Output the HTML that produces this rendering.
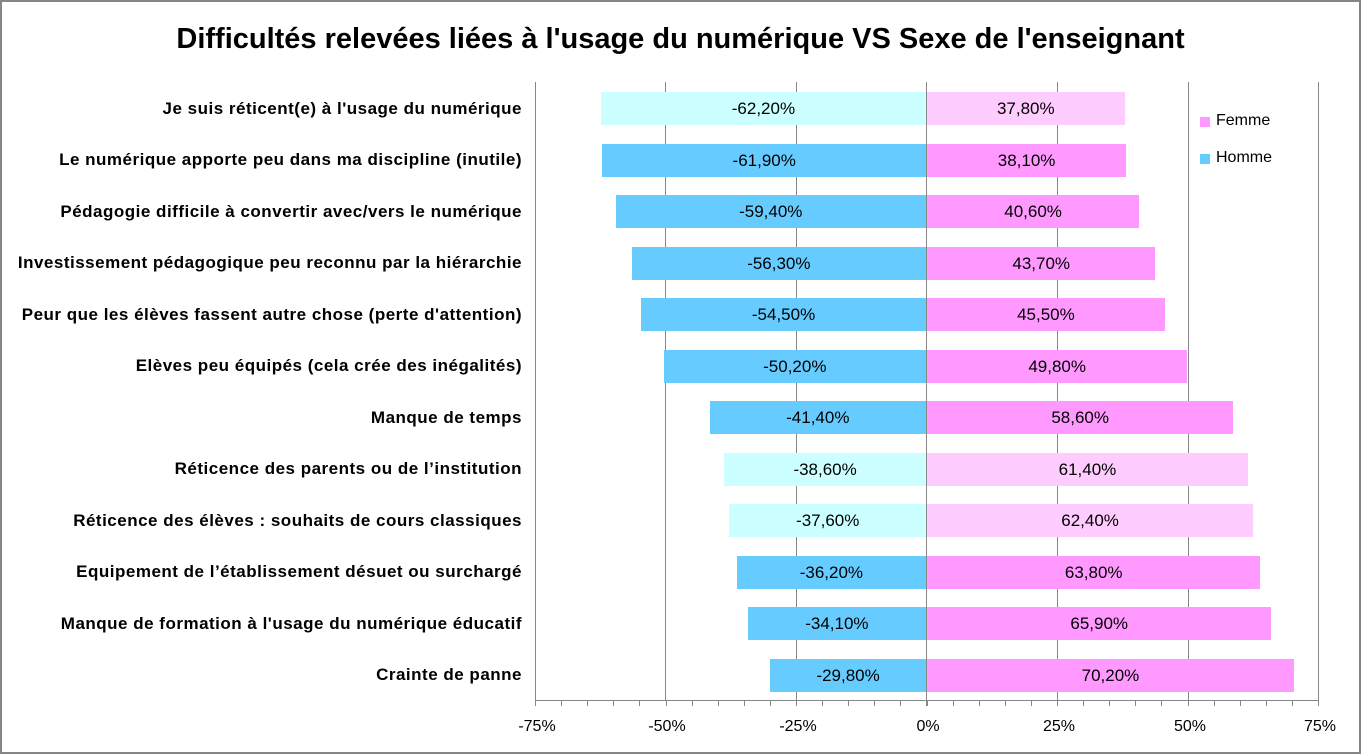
<!DOCTYPE html><html><head><meta charset="utf-8"><style>
body{margin:0;background:#fff;font-family:"Liberation Sans",sans-serif}
.c{position:relative;width:1357px;height:750px;border:2px solid #868686;overflow:hidden}
.t{position:absolute;left:0;width:1357px;top:21px;text-align:center;font-weight:bold;font-size:29px}
.l{position:absolute;right:837px;font-weight:bold;font-size:17px;letter-spacing:0.5px;white-space:nowrap;transform:translateY(-50%)}
.b{position:absolute;height:33px;font-size:17px;line-height:33px;text-align:center}
.x{position:absolute;top:716px;font-size:16px;transform:translateX(-50%)}
</style></head><body><div class="c">
<div class="t">Difficultés relevées liées à l'usage du numérique VS Sexe de l'enseignant</div>
<svg style="position:absolute;left:0;top:0" width="1357" height="750">
<g stroke="#888" stroke-width="1">
<line x1="533.5" y1="80" x2="533.5" y2="704"/>
<line x1="663.5" y1="80" x2="663.5" y2="698"/>
<line x1="794.5" y1="80" x2="794.5" y2="698"/>
<line x1="1055.5" y1="80" x2="1055.5" y2="698"/>
<line x1="1186.5" y1="80" x2="1186.5" y2="698"/>
<line x1="1316.5" y1="80" x2="1316.5" y2="704"/>
<line x1="533" y1="698.5" x2="1317" y2="698.5"/>
<line x1="924.5" y1="80" x2="924.5" y2="704"/>
</g>
<g stroke="#888" id="tk"></g>
</svg>
<div id="bars"></div>
<div style="position:absolute;left:1198px;top:115px;width:10px;height:10px;background:#ff99ff"></div>
<div style="position:absolute;left:1214px;top:110px;font-size:16px">Femme</div>
<div style="position:absolute;left:1198px;top:152px;width:10px;height:10px;background:#66ccff"></div>
<div style="position:absolute;left:1214px;top:147px;font-size:16px">Homme</div>
<div class="x" style="left:535px">-75%</div><div class="x" style="left:665px">-50%</div><div class="x" style="left:796px">-25%</div><div class="x" style="left:926px">0%</div><div class="x" style="left:1057px">25%</div><div class="x" style="left:1188px">50%</div><div class="x" style="left:1318px">75%</div>
</div>
<script>
var d=[["Je suis réticent(e) à l'usage du numérique",62.2,1],["Le numérique apporte peu dans ma discipline (inutile)",61.9,0],["Pédagogie difficile à convertir avec/vers le numérique",59.4,0],["Investissement pédagogique peu reconnu par la hiérarchie",56.3,0],["Peur que les élèves fassent autre chose (perte d'attention)",54.5,0],["Elèves peu équipés (cela crée des inégalités)",50.2,0],["Manque de temps",41.4,0],["Réticence des parents ou de l’institution",38.6,1],["Réticence des élèves : souhaits de cours classiques",37.6,1],["Equipement de l’établissement désuet ou surchargé",36.2,0],["Manque de formation à l'usage du numérique éducatif",34.1,0],["Crainte de panne",29.8,0]];
var h="",z=924,s=522.7/100,f=function(v){return v.toFixed(2).replace('.',',')+'%'};
d.forEach(function(r,i){var c=81+51.5*i+25.75,w=r[1]*s,w2=(100-r[1])*s;
h+='<div class="l" style="top:'+c+'px">'+r[0]+'</div>';
h+='<div class="b" style="top:'+(c-16.5)+'px;left:'+(z-w)+'px;width:'+w+'px;background:'+(r[2]?'#ccffff':'#66ccff')+'">-'+f(r[1])+'</div>';
h+='<div class="b" style="top:'+(c-16.5)+'px;left:'+(z+1)+'px;width:'+w2+'px;background:'+(r[2]?'#ffccff':'#ff99ff')+'">'+f(100-r[1])+'</div>';});
document.getElementById('bars').innerHTML=h;
var t="";for(var k=0;k<=30;k++){var x=Math.round(533+k*26.1)+.5;t+='<line x1="'+x+'" y1="698" x2="'+x+'" y2="704"/>';}
document.getElementById('tk').innerHTML=t;
</script></body></html>
